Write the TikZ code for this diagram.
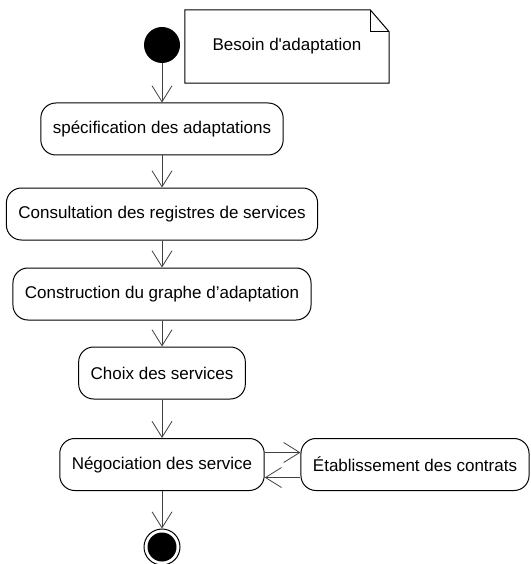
\documentclass[tikz,border=0pt]{standalone}
\usepackage{fontspec}
\setmainfont{Liberation Sans}
\usetikzlibrary{arrows.meta}
\tikzset{activity/.style = {draw, rounded corners = 15pt, minimum height = 52pt, inner xsep = 12pt, line width = 1pt, font = \fontsize{17}{20}\selectfont}}
\tikzset{flow/.style = {-{Straight Barb[length = 16pt, width = 20pt]}, line width = 0.8pt, black!75}}
\tikzset{initial/.style = {fill, circle, inner sep = 0, minimum size = 36pt}}
\tikzset{final/.style = {draw, circle, inner sep = 0, minimum size = 36pt, line width = 1pt,
    path picture = {\fill (path picture bounding box.center) circle (14.5pt);}}}

\begin{document}
\begin{tikzpicture}[x = 1pt, y = -1pt]
      \useasboundingbox (0, 0) rectangle (530, 564);

      \node [initial] (debut) at (162, 45) {};
      \node [minimum width = 204pt, minimum height = 73pt, font = \fontsize{17}{20}\selectfont] (besoin) at (287, 46.5) {Besoin d\textquotesingle adaptation};
      \draw [line width = 1pt] (besoin.north west) -- ([xshift = -19pt] besoin.north east) -- ([yshift = -22pt] besoin.north east) -- (besoin.south east) -- (besoin.south west) -- cycle;
      \draw [line width = 0.8pt] ([xshift = -19pt] besoin.north east) -- ([xshift = -19pt, yshift = -22pt] besoin.north east) -- ([yshift = -22pt] besoin.north east);

      \node [activity] (specif) at (162, 129) {spécification des adaptations};
      \node [activity] (registres) at (162, 214) {Consultation des registres de services};
      \node [activity] (graphe) at (162, 294) {Construction du graphe d’adaptation};
      \node [activity] (choix) at (162, 373) {Choix des services};
      \node [activity] (nego) at (162, 464.5) {Négociation des service};
      \node [activity] (contrats) at (415, 464.5) {Établissement des contrats};
      \node [final] (fin) at (162, 547) {};

      \draw [flow] (debut) -- (specif);
      \draw [flow] (specif) -- (registres);
      \draw [flow] (registres) -- (graphe);
      \draw [flow] (graphe) -- (choix);
      \draw [flow] (choix) -- (nego);
      \draw [flow] ([yshift = 12pt] nego.east) -- ([yshift = 12pt] contrats.west);
      \draw [flow] ([yshift = -13pt] contrats.west) -- ([yshift = -13pt] nego.east);
      \draw [flow] (nego) -- (fin);
    \end{tikzpicture}
\end{document}
